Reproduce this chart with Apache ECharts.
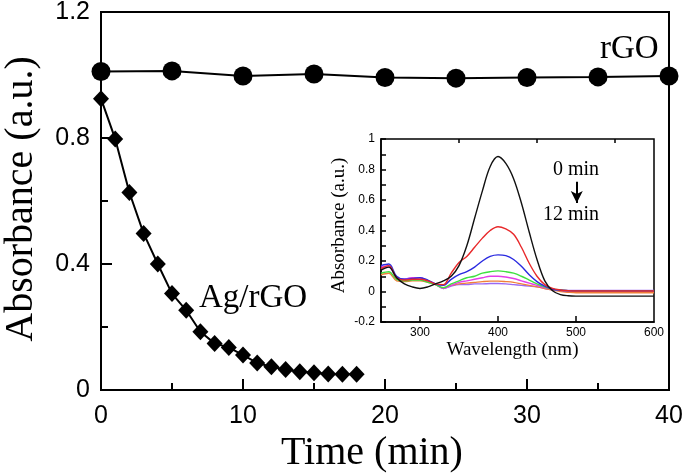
<!DOCTYPE html>
<html>
<head>
<meta charset="utf-8">
<script src="https://cdn.jsdelivr.net/npm/echarts@6/dist/echarts.min.js"></script>
<style>html,body{margin:0;padding:0;background:#fff}#c{width:685px;height:476px}</style>
</head>
<body>
<div id="c"></div>
<script>
// Main panel data
var timeAg = [0,1,2,3,4,5,6,7,8,9,10,11,12,13,14,15,16,17,18];
var absAg = [0.925,0.797,0.627,0.497,0.400,0.306,0.253,0.185,0.148,0.135,0.111,0.086,0.074,0.065,0.058,0.055,0.051,0.050,0.050];
var timeRGO = [0,5,10,15,20,25,30,35,40];
var absRGO = [1.011,1.013,0.997,1.003,0.992,0.990,0.992,0.994,0.997];
var mainXTicks = [0,10,20,30,40];
var mainYTicks = [0,0.4,0.8,1.2];

// Inset spectra data
var wl = [250,260,270,280,290,300,310,320,330,340,350,360,370,380,390,400,410,420,430,440,450,460,470,480,490,500,510,520,530,540,550,560,570,580,590,600];
var spec0 = [0.14,0.16,0.09,0.05,0.03,0.02,0.03,0.05,0.07,0.10,0.17,0.30,0.48,0.66,0.82,0.885,0.84,0.74,0.58,0.39,0.21,0.07,0.005,-0.02,-0.028,-0.03,-0.03,-0.03,-0.03,-0.03,-0.03,-0.03,-0.03,-0.03,-0.03,-0.03];
var specRed = [0.15,0.17,0.09,0.075,0.08,0.08,0.07,0.05,0.045,0.12,0.19,0.23,0.29,0.35,0.40,0.425,0.41,0.375,0.29,0.185,0.10,0.045,0.02,0.01,0.005,0.003,0.003,0.003,0.003,0.003,0.003,0.003,0.003,0.003,0.003,0.003];
var specBlue = [0.17,0.18,0.10,0.08,0.085,0.09,0.075,0.05,0.04,0.08,0.11,0.13,0.16,0.20,0.23,0.24,0.235,0.21,0.165,0.11,0.065,0.035,0.015,0.008,0.005,0.004,0.004,0.004,0.004,0.004,0.004,0.004,0.004,0.004,0.004,0.004];
var specGreen = [0.12,0.13,0.08,0.07,0.075,0.075,0.06,0.045,0.025,0.05,0.07,0.09,0.10,0.12,0.13,0.135,0.13,0.12,0.10,0.075,0.05,0.03,0.015,0.01,0.006,0.005,0.005,0.005,0.005,0.005,0.005,0.005,0.005,0.005,0.005,0.005];
var specMagenta = [0.16,0.17,0.09,0.08,0.09,0.09,0.07,0.05,0.02,0.04,0.06,0.07,0.08,0.09,0.10,0.10,0.095,0.085,0.07,0.055,0.04,0.025,0.015,0.008,0.006,0.005,0.005,0.005,0.005,0.005,0.005,0.005,0.005,0.005,0.005,0.005];
var specOrange = [0.11,0.12,0.07,0.065,0.07,0.07,0.06,0.045,0.025,0.04,0.05,0.055,0.06,0.065,0.068,0.068,0.065,0.06,0.05,0.04,0.03,0.02,0.01,0.0,-0.005,-0.008,-0.008,-0.008,-0.008,-0.008,-0.008,-0.008,-0.008,-0.008,-0.008,-0.008];
var specPurple = [0.15,0.16,0.09,0.08,0.09,0.09,0.07,0.045,0.02,0.035,0.045,0.045,0.05,0.05,0.052,0.052,0.05,0.045,0.04,0.035,0.03,0.02,0.01,0.008,0.007,0.007,0.007,0.007,0.007,0.007,0.007,0.007,0.007,0.007,0.007,0.007];
var insetXLabels = [300,400,500,600];
var insetXMajor = [300,400,500];
var insetXMinor = [350,450,550];

function pairs(xs, ys){ return xs.map(function(x,i){return [x, ys[i]];}); }

var chart = echarts.init(document.getElementById('c'), null, {renderer:'canvas'});
var serif = '"Liberation Serif","Times New Roman",serif';
var sans = '"Liberation Sans",Arial,sans-serif';

function spec(name, data, color){
  return {name:name, type:'line', xAxisIndex:1, yAxisIndex:1, data:pairs(wl,data), showSymbol:false, smooth:0.35,
    lineStyle:{color:color, width:1.4}, itemStyle:{color:color}, z:3, animation:false};
}

var option = {
  animation:false,
  backgroundColor:'#fff',
  grid:[
    {left:101, right:16, top:12, bottom:86, show:true, borderColor:'#000', borderWidth:2, backgroundColor:'transparent', outerBoundsMode:'none', containLabel:false},
    {left:381, top:139, width:273, height:183, show:true, borderColor:'#000', borderWidth:1.5, backgroundColor:'#fff', outerBoundsMode:'none', containLabel:false}
  ],
  xAxis:[
    {type:'value', gridIndex:0, min:0, max:40, interval:10,
     name:'Time (min)', nameLocation:'middle', nameGap:42,
     nameTextStyle:{fontFamily:serif, fontSize:40, color:'#000', padding:[0,26,0,0]},
     axisLine:{onZero:false, lineStyle:{color:'#000', width:2}},
     axisTick:{inside:true, length:11, lineStyle:{color:'#000', width:2}},
     minorTick:{show:true, splitNumber:2, length:7, lineStyle:{color:'#000', width:2}},
     axisLabel:{fontFamily:sans, fontSize:25, color:'#000', margin:14},
     splitLine:{show:false}},
    {type:'value', gridIndex:1, min:250, max:600,
     name:'Wavelength (nm)', nameLocation:'middle', nameGap:19,
     nameTextStyle:{fontFamily:serif, fontSize:19, color:'#000', padding:[0,10,0,0]},
     axisLine:{onZero:false, lineStyle:{color:'#000', width:1.5}},
     axisTick:{inside:true, length:6, customValues:insetXMajor, lineStyle:{color:'#000', width:1.5}},
     axisLabel:{fontFamily:sans, fontSize:12, color:'#000', margin:5, customValues:insetXLabels},
     splitLine:{show:false}},
    {type:'value', gridIndex:1, min:250, max:600,
     axisLine:{show:false, onZero:false},
     axisTick:{inside:true, length:4, customValues:insetXMinor, lineStyle:{color:'#000', width:1.5}},
     axisLabel:{show:false}, splitLine:{show:false}}
  ],
  yAxis:[
    {type:'value', gridIndex:0, min:0, max:1.2, interval:0.4,
     name:'Absorbance (a.u.)', nameLocation:'middle', nameGap:60, nameRotate:90,
     nameTextStyle:{fontFamily:serif, fontSize:40, color:'#000', padding:[0,0,0,4]},
     axisLine:{onZero:false, lineStyle:{color:'#000', width:2}},
     axisTick:{inside:true, length:11, lineStyle:{color:'#000', width:2}},
     minorTick:{show:true, splitNumber:2, length:7, lineStyle:{color:'#000', width:2}},
     axisLabel:{fontFamily:sans, fontSize:25, color:'#000', margin:11,
       formatter:function(v){return String(Math.round(v*10)/10);}},
     splitLine:{show:false}},
    {type:'value', gridIndex:1, min:-0.2, max:1, interval:0.2,
     name:'Absorbance (a.u.)', nameLocation:'middle', nameGap:32, nameRotate:90,
     nameTextStyle:{fontFamily:serif, fontSize:19, color:'#000', padding:[0,0,0,10]},
     axisLine:{onZero:false, lineStyle:{color:'#000', width:1.5}},
     axisTick:{inside:true, length:5, lineStyle:{color:'#000', width:1.5}},
     minorTick:{show:true, splitNumber:2, length:5, lineStyle:{color:'#000', width:1.5}},
     axisLabel:{fontFamily:sans, fontSize:12, color:'#000', margin:6,
       formatter:function(v){return String(Math.round(v*10)/10);}},
     splitLine:{show:false}}
  ],
  series:[
    {name:'rGO', type:'line', xAxisIndex:0, yAxisIndex:0, data:pairs(timeRGO,absRGO), symbol:'circle', symbolSize:19,
     clip:false, lineStyle:{color:'#000', width:2}, itemStyle:{color:'#000'}, z:4},
    {name:'Ag/rGO', type:'line', xAxisIndex:0, yAxisIndex:0, data:pairs(timeAg,absAg), symbol:'diamond', symbolSize:[16,17],
     clip:false, lineStyle:{color:'#000', width:2}, itemStyle:{color:'#000'}, z:4},
    spec('12 min e', specPurple, '#9a6af2'),
    spec('12 min d', specOrange, '#f07f3a'),
    spec('magenta', specMagenta, '#e43ee8'),
    spec('green', specGreen, '#3ee040'),
    spec('blue', specBlue, '#2a2ae0'),
    spec('red', specRed, '#e8282a'),
    Object.assign(spec('0 min', spec0, '#111'), {
      markLine:{silent:true, symbol:['none','arrow'], symbolSize:[9,12], label:{show:false},
        lineStyle:{color:'#000', width:2, type:'solid'},
        data:[[{coord:[501,0.72]},{coord:[501,0.58]}]]}
    })
  ],
  graphic:[
    {type:'text', left:199, top:282, style:{text:'Ag/rGO', font:'33px ' + serif, fill:'#000'}},
    {type:'text', left:600, top:33, style:{text:'rGO', font:'33px ' + serif, fill:'#000'}},
    {type:'text', left:553, top:160, style:{text:'0 min', font:'20px ' + serif, fill:'#000'}},
    {type:'text', left:543, top:205, style:{text:'12 min', font:'20px ' + serif, fill:'#000'}}
  ]
};
chart.setOption(option);
</script>
</body>
</html>
